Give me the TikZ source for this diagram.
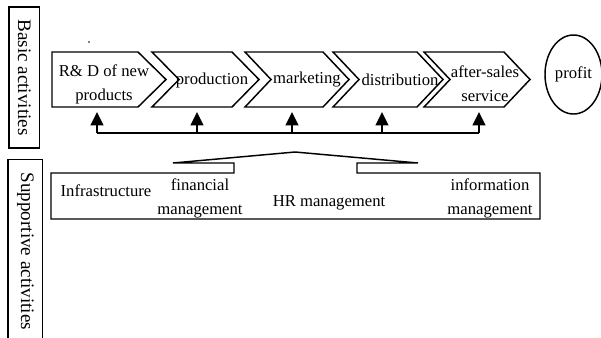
\documentclass[tikz,border=0pt]{standalone}
\usepackage{fontspec}
\setmainfont{Liberation Serif}
\usetikzlibrary{arrows.meta,shapes.geometric}

\begin{document}
\begin{tikzpicture}[x=0.75pt,y=-0.75pt,
        chevron/.style={draw,line width=1.1pt,line join=miter},
        txt/.style={font=\fontsize{12.5}{18}\selectfont,align=center,inner sep=0pt},
        side/.style={draw,line width=1.1pt,rotate=-90,font=\fontsize{14.3}{18}\selectfont,
            inner ysep=0pt},
        up/.style={-{Triangle[length=10pt,width=9.5pt]},line width=1.4pt}]
    \useasboundingbox (0,0) rectangle (601,337);

    % Side labels
    \node[side,minimum width=105.75pt,minimum height=22.9pt] (basic) at (24.3,77.5) {Basic activities};
    \node[side,minimum height=25.9pt,inner xsep=9.75pt,anchor=west] (supp) at (25.3,159) {Supportive activities};

    % Value chain
    \draw[chevron] (52,52) -- (138,52) -- (166,79.5) -- (138,107) -- (52,107) -- cycle;
    \draw[chevron] (152,52) -- (232,52) -- (259,79.5) -- (232,107) -- (152,107) -- (179,79.5) -- cycle;
    \draw[chevron] (245,52) -- (323,52) -- (349,79.5) -- (323,107) -- (245,107) -- (271,79.5) -- cycle;
    \draw[chevron] (333,52) -- (417,52) -- (443,79.5) -- (417,107) -- (333,107) -- (359,79.5) -- cycle;
    \draw[chevron] (424,52) -- (504,52) -- (530,79.5) -- (504,107) -- (424,107) -- (450,79.5) -- cycle;
    \coordinate (c1) at (109,107);
    \coordinate (c2) at (205,107);
    \coordinate (c3) at (297,107);
    \coordinate (c4) at (388,107);
    \coordinate (c5) at (477,107);

    \node[txt] (rd) at (104,84) {R\& D of new\\products};
    \node[txt] (prod) at (212,80) {production};
    \node[txt] (mark) at (307,80) {marketing};
    \node[txt] (dist) at (400,80) {distribution};
    \node[txt] (after) at (485,84) {after-sales\\service};

    \node[ellipse,draw,line width=1.1pt,inner sep=0pt,minimum width=42.75pt,minimum height=59.25pt,
        font=\fontsize{12.5}{18}\selectfont] (profit) at (573.5,74.5) {profit};

    \fill (89,42) circle (0.8);

    % Support bus
    \coordinate (b1) at (97,133);
    \coordinate (b2) at (197,133);
    \coordinate (b3) at (292,133);
    \coordinate (b4) at (382,133);
    \coordinate (b5) at (479,133);
    \draw[line width=1.4pt] (b1) -- (b5);
    \draw[up,shorten >=3.75pt] (b1) -- (b1 |- c1);
    \draw[up,shorten >=3.75pt] (b2) -- (b2 |- c2);
    \draw[up,shorten >=3.75pt] (b3) -- (b3 |- c3);
    \draw[up,shorten >=3.75pt] (b4) -- (b4 |- c4);
    \draw[up,shorten >=3.75pt] (b5) -- (b5 |- c5);

    % Supportive activities box
    \draw[line width=1.1pt] (234,173) -- (234,163) -- (173,163) -- (295,152) -- (418,163)
        -- (357,163) -- (357,173) -- (540,173) -- (540,219) -- (51,219) -- (51,173) -- cycle;

    \node[txt] (infra) at (106,191) {Infrastructure};
    \node[txt] (fin) at (200,198) {financial\\management};
    \node[txt] (hr) at (329,203) {HR management};
    \node[txt] (info) at (490,198) {information\\management};
\end{tikzpicture}
\end{document}
